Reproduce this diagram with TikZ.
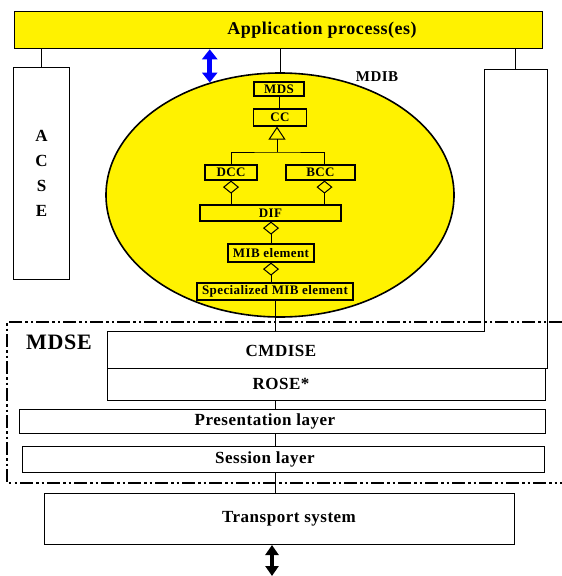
\documentclass[tikz,border=0pt]{standalone}
\usepackage{fontspec}
\setmainfont{Liberation Serif}[LetterSpace=3]
\usetikzlibrary{arrows.meta,shapes.geometric}

\begin{document}
\begin{tikzpicture}[x=1pt, y=-1pt,
    box/.style={draw, line width=1pt, inner sep=0pt, anchor=north west},
    cls/.style={draw, line width=1.2pt, inner sep=0pt, font=\bfseries\fontsize{13}{13}\selectfont},
    txt/.style={inner sep=0pt, font=\bfseries\fontsize{17}{17}\selectfont},
    agg/.style={line width=1pt, arrows={Diamond[open,length=13pt,width=16pt]-}},
    dashdot/.style={line width=2pt, dash pattern=on 13pt off 3pt on 2.5pt off 3pt on 2.5pt off 3pt}
]
\useasboundingbox (0, 0) rectangle (562, 576);

% application and side boxes
\node[box, fill=yellow, line width=1.3pt, minimum width=528, minimum height=37] (app) at (14, 11) {};
\node[txt, font=\bfseries\fontsize{18}{18}\selectfont] (apptext) at (322, 30) {Application process(es)};

\node[box, minimum width=56, minimum height=212, align=center,
      font=\bfseries\fontsize{17}{25}\selectfont] (acse) at (13, 67) {A\\C\\S\\E};
\draw[line width=1pt] (app.south -| acse.north) -- (acse.north);

\node[inner sep=0pt, anchor=north west, minimum width=63, minimum height=262] (rbox) at (484, 69) {};
\node[inner sep=0pt, anchor=north west, minimum width=440, minimum height=37] (cmdise) at (107, 331) {};
\draw[line width=1pt] (cmdise.south west) |- (rbox.south west) |- (rbox.north east) |- (cmdise.south west);
\draw[line width=1pt] (app.south -| rbox.north) -- (rbox.north);
\node[txt] (cmdisetext) at (281, 351) {CMDISE};

% MDIB
\node[draw, ellipse, fill=yellow, line width=1.6pt, inner sep=0pt,
      minimum width=348, minimum height=244] (mdib) at (280, 195) {};
\draw[line width=1pt] (app.south -| mdib.north) -- (mdib.north);
\draw[blue, line width=5pt, {Triangle[width=15pt,length=10pt]}-{Triangle[width=15pt,length=10pt]}]
    (app.south -| mdib.122) -- (mdib.122);
\node[inner sep=0pt, font=\bfseries\fontsize{15}{15}\selectfont] (mdibtext) at (377, 77) {MDIB};

\node[cls, minimum width=50, minimum height=14] (mds) at (279, 89) {MDS};
\node[cls, minimum width=53, minimum height=17] (cc) at (280, 117.5) {CC};
\node[cls, minimum width=52, minimum height=15] (dcc) at (231, 172.5) {DCC};
\node[cls, minimum width=69, minimum height=15] (bcc) at (320.5, 172.5) {BCC};
\node[cls, minimum width=141, minimum height=16] (dif) at (270.5, 213) {DIF};
\node[cls, minimum width=86, minimum height=18] (mib) at (271, 253) {MIB element};
\node[cls, minimum width=156, minimum height=17] (spec) at (275, 291.5) {Specialized MIB element};

\coordinate (gen) at (277, 152);
\draw[line width=1pt] (mds.south) -- (mds.south |- cc.north);
\draw[line width=1pt, {Triangle[open,length=13pt,width=17pt]}-] (cc.south -| gen) -- (gen);
\draw[line width=1pt] (dcc.north) |- (gen) -| ([xshift=4]bcc.north);
\draw[agg] (dcc.south) -- (dcc.south |- dif.north);
\draw[agg] ([xshift=4]bcc.south) -- ([xshift=4]bcc.south |- dif.north);
\draw[agg] (dif.south -| mib.north) -- (mib.north);
\draw[agg] (mib.south) -- (mib.south |- spec.north);

% MDSE
\draw[dashdot] (562, 322) -| (7, 483) -- (562, 483);
\node[inner sep=0pt, font=\bfseries\fontsize{22}{22}\selectfont] (mdse) at (59, 342) {MDSE};

\node[box, minimum width=438, minimum height=32] (rose) at (107, 368) {};
\node[txt] (rosetext) at (281, 384) {ROSE*};
\node[box, minimum width=526, minimum height=24] (pres) at (19, 409) {};
\node[txt] (prestext) at (265, 421) {Presentation layer};
\node[box, minimum width=522, minimum height=26] (sess) at (22, 446) {};
\node[txt] (sesstext) at (265, 459) {Session layer};
\node[box, minimum width=470, minimum height=51] (trans) at (44, 493) {};
\node[txt] (transtext) at (289, 519) {Transport system};

\draw[line width=1pt] (spec.south) -- (spec.south |- cmdise.north);
\draw[line width=1pt] (spec.south |- rose.south) -- (spec.south |- pres.north);
\draw[line width=1pt] (spec.south |- pres.south) -- (spec.south |- sess.north);
\draw[line width=1pt] (spec.south |- sess.south) -- (spec.south |- trans.north);

\coordinate (out) at (272, 576);
\draw[line width=4pt, {Triangle[width=13pt,length=10pt]}-{Triangle[width=13pt,length=10pt]}]
    (trans.south -| out) -- (out);

\end{tikzpicture}
\end{document}
